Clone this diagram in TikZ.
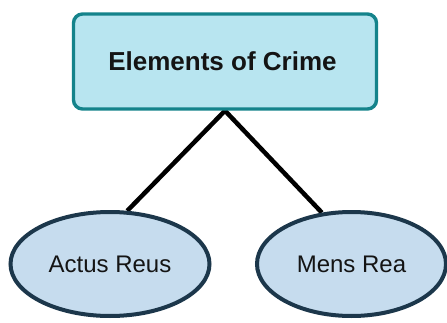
\documentclass[tikz,border=0pt]{standalone}
\usepackage{fontspec}
\setmainfont{Liberation Sans}
\usetikzlibrary{shapes.geometric,backgrounds}
\definecolor{boxfill}{HTML}{B8E5F0}
\definecolor{boxline}{HTML}{14838B}
\definecolor{ovalfill}{HTML}{C6DCEE}
\definecolor{ovalline}{HTML}{1C374B}
\definecolor{ink}{HTML}{141414}
\tikzset{
  titlebox/.style={draw=boxline, fill=boxfill, line width=3.4pt, rounded corners=9pt,
    minimum width=303pt, minimum height=95pt, inner sep=0pt, text=ink,
    font=\fontsize{26pt}{30pt}\selectfont\bfseries},
  elementoval/.style={ellipse, draw=ovalline, fill=ovalfill, line width=4pt,
    inner sep=0pt, minimum height=104pt, text=ink,
    font=\fontsize{24pt}{28pt}\selectfont},
  link/.style={draw=black, line width=4.5pt}
}
\begin{document}
\begin{tikzpicture}[x=1pt,y=1pt]
  \useasboundingbox (0,0) rectangle (447,322);
  % top concept box
  \node[titlebox] (crime) at (225,260.5) {\hspace*{-5pt}Elements of Crime};
  % the two elements
  \node[elementoval, minimum width=199pt] (actus) at (110,58) {Actus Reus};
  \node[elementoval, minimum width=189pt] (mens) at (351.5,58) {Mens Rea};
  % white page and connectors, drawn underneath the shapes
  \begin{scope}[on background layer]
    \fill[white] (0,0) rectangle (447,322);
    \draw[link] (crime.south) -- (actus.72);
    \draw[link] (crime.south) -- (mens.120);
  \end{scope}
\end{tikzpicture}
\end{document}
